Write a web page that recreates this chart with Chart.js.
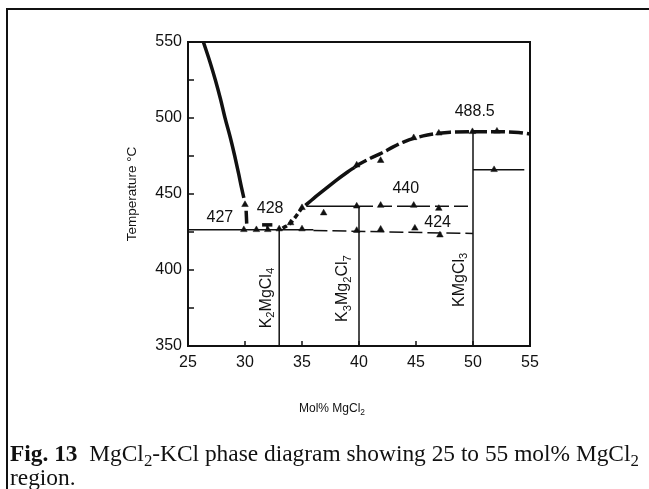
<!DOCTYPE html>
<html>
<head>
<meta charset="utf-8">
<script src="https://cdn.jsdelivr.net/npm/chart.js@4"></script>
<style>
  body { margin: 0; background: #fff; }
  #wrap { position: relative; width: 649px; height: 489px; overflow: hidden; background: #fff; }
  #frame { position: absolute; left: 6px; top: 8px; width: 700px; height: 520px; border-left: 2px solid #111; border-top: 2px solid #111; }
  canvas { position: absolute; left: 0; top: 0; }
  #caption { position: absolute; left: 10px; top: 441px; font-family: "Liberation Serif", "Times New Roman", serif; font-size: 23.4px; line-height: 24px; color: #111; white-space: nowrap; }
  #caption sub { font-size: 0.72em; vertical-align: -0.3em; line-height: 0; }
</style>
</head>
<body>
<div id="wrap">
  <div id="frame"></div>
  <canvas id="chart" width="649" height="489"></canvas>
  <div id="caption"><b>Fig. 13</b>&nbsp; MgCl<sub>2</sub>-KCl phase diagram showing 25 to 55 mol% MgCl<sub>2</sub><br>region.</div>
</div>
<script>
const INK = '#111';
const FONT = "'Liberation Sans', Arial, Helvetica, sans-serif";

// axes
const xTicks = [25, 30, 35, 40, 45, 50, 55];
const yTicks = [350, 400, 450, 500, 550];
const yMarks = [350, 375, 400, 425, 450, 475, 500, 525, 550];

// liquidus on the KCl side
const liqLeftMol = [26.35, 26.9, 27.4, 27.85, 28.25, 28.7, 29.1, 29.45, 29.7, 29.9];
const liqLeftT = [550, 537.5, 525, 512.5, 500, 487.5, 475, 463, 454, 447.5];
const liqDropMol = [30.1, 30.15];
const liqDropT = [439, 430.5];

// liquidus rising from the K2MgCl4 side
const riseDashMol = [33.3, 34, 35];
const riseDashT = [427.5, 431, 441];
const riseMol = [35.3, 36, 37, 38, 39, 39.6];
const riseT = [442.5, 447, 453, 459, 464.5, 467.5];
const topMol = [39.6, 40, 41, 42, 43, 44, 45, 46, 47, 48, 50, 52, 54, 55];
const topT = [467.5, 469.5, 473.5, 477, 481, 484.5, 487, 488.8, 490, 490.7, 491, 491, 490.5, 489.5];

// horizontal invariant lines
const eut427Mol = [25, 36];
const eut427T = [426.5, 426.5];
const eut424Mol = [36, 50];
const eut424T = [426, 424];
const per440Mol = [35.4, 40];
const per440T = [442, 442];
const per440DashMol = [40, 50];
const per440DashT = [442, 442];
const bar428Mol = [31.5, 32.4];
const bar428T = [429.7, 429.7];
const stem428Mol = [31.95, 31.95];
const stem428T = [429.7, 427];
const shelfMol = [50, 54.5];
const shelfT = [466, 466];

// compounds
const compoundNames = ['K_2MgCl_4', 'K_3Mg_2Cl_7', 'KMgCl_3'];
const compoundMol = [33, 40, 50];
const compoundTopT = [426.5, 442, 491];

// measured points
const pointMol = [30, 29.9, 31, 32, 33, 34, 35, 35, 36.9, 39.8, 41.9, 44.9, 47.1, 39.8, 41.9, 44.8, 47, 39.8, 41.9, 44.8, 47, 49.95, 52.1, 51.85];
const pointT = [443, 426.5, 426.5, 426.5, 427, 431, 441, 427, 437.5, 426, 426.8, 427.5, 423, 442, 442.5, 442.5, 440.5, 469, 472, 487, 490, 491, 491.3, 466];

// temperature notes
const noteText = ['427', '428', '440', '424', '488.5'];
const noteMol = [27.8, 32.2, 44.1, 46.9, 50.15];
const noteT = [434.5, 440.4, 453.6, 431, 504.3];
const compoundLabelMol = [31.86, 38.6, 48.8];
const compoundLabelT = [381.5, 387.8, 393.5];

function pts(xs, ys) {
  return xs.map((x, i) => ({ x: x, y: ys[i] }));
}

function line(xs, ys, width, dash) {
  return {
    data: pts(xs, ys),
    showLine: true,
    borderColor: INK,
    borderWidth: width,
    borderDash: dash || [],
    pointRadius: 0,
    cubicInterpolationMode: 'monotone'
  };
}

const datasets = [
  line(liqLeftMol, liqLeftT, 3.5),
  line(liqDropMol, liqDropT, 3.5),
  line(riseDashMol, riseDashT, 3.5, [5, 3]),
  line(riseMol, riseT, 3.5),
  line(topMol, topT, 3.5, [14, 4]),
  line(eut427Mol, eut427T, 1.5),
  line(eut424Mol, eut424T, 1.5, [14, 5]),
  line(per440Mol, per440T, 1.5),
  line(per440DashMol, per440DashT, 1.5, [14, 5]),
  line(bar428Mol, bar428T, 3.5),
  line(stem428Mol, stem428T, 2),
  line(shelfMol, shelfT, 1.5)
];

compoundMol.forEach((m, i) => {
  datasets.push(line([m, m], [350, compoundTopT[i]], 1.5));
});

datasets.push({
  data: pts(pointMol, pointT),
  pointStyle: 'triangle',
  pointRadius: 3.8,
  pointBackgroundColor: INK,
  pointBorderColor: INK,
  pointBorderWidth: 0.5,
  showLine: false
});

// text with _n subscripts, centred on (x, y)
function richText(ctx, str, x, y, size) {
  const parts = str.split(/(_\d)/).filter(Boolean).map(p =>
    p[0] === '_' ? { t: p[1], sub: true } : { t: p, sub: false });
  let w = 0;
  parts.forEach(p => {
    ctx.font = (p.sub ? size * 0.7 : size) + 'px ' + FONT;
    p.w = ctx.measureText(p.t).width;
    w += p.w;
  });
  let cx = x - w / 2;
  ctx.textAlign = 'left';
  ctx.textBaseline = 'middle';
  parts.forEach(p => {
    ctx.font = (p.sub ? size * 0.7 : size) + 'px ' + FONT;
    ctx.fillText(p.t, cx, p.sub ? y + size * 0.3 : y);
    cx += p.w;
  });
}

const decor = {
  id: 'decor',
  afterDraw(chart) {
    const { ctx, chartArea: a, scales: { x, y } } = chart;
    ctx.save();
    ctx.strokeStyle = INK;
    ctx.fillStyle = INK;
    ctx.lineWidth = 2;
    ctx.strokeRect(a.left, a.top, a.right - a.left, a.bottom - a.top);

    // inward ticks
    ctx.lineWidth = 1.5;
    ctx.beginPath();
    yMarks.forEach(v => {
      const p = y.getPixelForValue(v);
      ctx.moveTo(a.left, p);
      ctx.lineTo(a.left + 6, p);
    });
    xTicks.forEach(v => {
      const p = x.getPixelForValue(v);
      ctx.moveTo(p, a.bottom);
      ctx.lineTo(p, a.bottom - 5);
    });
    ctx.stroke();

    ctx.font = '16px ' + FONT;
    ctx.textAlign = 'center';
    ctx.textBaseline = 'middle';
    noteText.forEach((t, i) => {
      ctx.fillText(t, x.getPixelForValue(noteMol[i]), y.getPixelForValue(noteT[i]));
    });

    compoundNames.forEach((n, i) => {
      ctx.save();
      ctx.translate(x.getPixelForValue(compoundLabelMol[i]), y.getPixelForValue(compoundLabelT[i]));
      ctx.rotate(-Math.PI / 2);
      richText(ctx, n, 0, 0, 16);
      ctx.restore();
    });

    // x axis title
    richText(ctx, 'Mol% MgCl_2', 332, 409, 12);
    ctx.restore();
  }
};

new Chart(document.getElementById('chart'), {
  type: 'scatter',
  data: { datasets: datasets },
  options: {
    responsive: false,
    animation: false,
    devicePixelRatio: 1,
    layout: { padding: { left: 8, right: 119, top: 42, bottom: 63 } },
    plugins: { legend: { display: false }, tooltip: { enabled: false } },
    scales: {
      x: {
        type: 'linear',
        min: 25,
        max: 55,
        afterBuildTicks: s => { s.ticks = xTicks.map(v => ({ value: v })); },
        afterFit: s => { s.height = 80; },
        ticks: { color: INK, font: { family: FONT, size: 16 }, padding: 7, maxRotation: 0, autoSkip: false },
        grid: { display: false, drawTicks: false },
        border: { display: false }
      },
      y: {
        type: 'linear',
        min: 350,
        max: 550,
        afterBuildTicks: s => { s.ticks = yTicks.map(v => ({ value: v })); },
        afterFit: s => { s.width = 180; },
        ticks: { color: INK, font: { family: FONT, size: 16 }, padding: 6, autoSkip: false },
        grid: { display: false, drawTicks: false },
        border: { display: false },
        title: {
          display: true,
          text: 'Temperature °C',
          color: INK,
          font: { family: FONT, size: 13.5 },
          padding: { top: 116, bottom: 0 }
        }
      }
    }
  },
  plugins: [decor]
});
</script>
</body>
</html>
